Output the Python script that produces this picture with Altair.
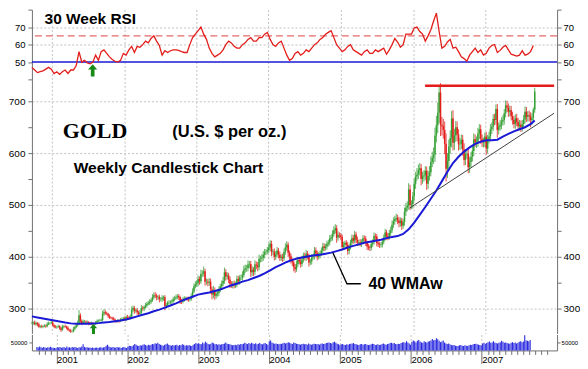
import altair as alt
import pandas as pd

# ---------------- weekly closes (Fridays) ----------------
close_2000 = [272, 273, 270, 272, 270, 265, 266, 265, 266, 267, 266, 270, 272, 272, 273]
close_2001 = [268, 265, 264, 265, 266, 262, 259, 265, 266, 265, 263, 259, 258, 256, 256, 261, 264,
              268, 272, 287, 276, 272, 275, 275, 273, 274, 271, 270, 272, 270, 270, 273, 276, 277, 277,
              278, 290, 293, 291, 290, 286, 283, 282, 281, 279, 276, 275, 277, 276, 279, 280, 281]
close_2002 = [280, 284, 283, 282, 285, 298, 301, 296, 297, 293, 290, 292, 301, 300, 303, 306, 309,
              311, 313, 316, 322, 326, 325, 322, 323, 318, 318, 321, 322, 305, 307, 312, 312, 313, 314,
              318, 320, 322, 324, 322, 315, 313, 317, 320, 320, 319, 318, 318, 324, 333, 343, 347]
close_2003 = [349, 357, 353, 367, 368, 372, 352, 352, 350, 352, 337, 327, 336, 325, 328, 330, 337,
              343, 348, 354, 370, 362, 364, 356, 348, 346, 348, 345, 347, 357, 353, 360, 360, 365, 375,
              378, 378, 385, 386, 370, 375, 371, 385, 383, 380, 396, 396, 398, 404, 409, 410, 413]
close_2004 = [418, 425, 409, 410, 400, 405, 412, 404, 398, 400, 397, 409, 418, 423, 408, 401, 393, 389,
              380, 376, 386, 394, 391, 386, 395, 402, 398, 406, 402, 389, 391, 399, 401, 412, 407,
              400, 403, 407, 412, 420, 417, 420, 425, 428, 435, 437, 444, 451, 455, 437, 442, 441, 438]
close_2005 = [419, 423, 427, 423, 411, 419, 427, 436, 431, 443, 433, 427, 428, 425, 429, 436, 435,
              427, 420, 418, 417, 425, 428, 440, 439, 426, 424, 423, 424, 429, 437, 447, 440, 438,
              446, 451, 462, 469, 473, 475, 470, 465, 470, 460, 467, 487, 495, 499, 530, 500, 502, 517]
close_2006 = [541, 555, 559, 567, 571, 550, 555, 557, 566, 541, 556, 563, 583, 591, 597, 634, 654,
              678, 717, 655, 652, 645, 618, 570, 585, 613, 629, 667, 620, 634, 650, 636, 617, 618,
              626, 607, 587, 598, 599, 573, 583, 593, 604, 627, 621, 622, 638, 646, 628, 621, 621, 632]
close_2007 = [609, 627, 632, 646, 651, 666, 664, 685, 645, 651, 655, 661, 664, 677, 692, 688, 680,
              683, 671, 664, 656, 667, 660, 652, 655, 650, 656, 665, 680, 670, 673, 671, 664, 668, 684,
              719]

# wick length above the body / below the body ($)
up_2000 = [3, 2, 4, 3, 2, 3, 2, 3, 2, 3, 2, 4, 3, 2, 3]
dn_2000 = [2, 3, 2, 3, 4, 2, 3, 2, 3, 2, 3, 2, 2, 3, 2]
up_2001 = [3, 2, 3, 2, 3, 2, 3, 4, 2, 3, 2, 3, 2, 3, 2, 4, 3, 4, 5, 10, 4, 3, 4, 3, 2, 3, 2, 3, 3, 2,
           2, 3, 3, 2, 3, 3, 6, 6, 4, 3, 2, 3, 2, 2, 3, 2, 2, 3, 2, 3, 3, 3]
dn_2001 = [2, 3, 2, 3, 2, 3, 4, 2, 3, 2, 3, 2, 3, 3, 2, 2, 3, 2, 3, 4, 5, 4, 2, 3, 2, 2, 3, 2, 2, 3,
           2, 2, 3, 2, 2, 2, 3, 4, 3, 3, 4, 3, 2, 3, 2, 3, 2, 2, 3, 2, 2, 2]
up_2002 = [4, 3, 4, 3, 4, 6, 5, 4, 3, 4, 3, 5, 6, 4, 3, 5, 4, 4, 5, 4, 6, 5, 6, 4, 3, 4, 4, 5, 3, 4,
           4, 3, 4, 3, 4, 5, 4, 5, 4, 4, 3, 4, 5, 4, 3, 3, 4, 3, 5, 6, 5, 6]
dn_2002 = [3, 4, 3, 4, 3, 4, 5, 6, 4, 5, 4, 3, 4, 4, 5, 3, 4, 3, 4, 4, 3, 4, 5, 6, 5, 6, 4, 5, 6, 8,
           5, 4, 3, 4, 4, 3, 4, 3, 4, 5, 6, 4, 3, 4, 3, 4, 5, 4, 3, 4, 3, 4]
up_2003 = [6, 7, 5, 8, 6, 9, 5, 6, 5, 7, 6, 5, 8, 5, 6, 7, 6, 5, 6, 7, 9, 6, 6, 5, 6, 5, 5, 6, 5, 7,
           6, 5, 6, 7, 8, 7, 6, 8, 6, 6, 7, 5, 8, 6, 7, 8, 6, 7, 7, 6, 5, 6]
dn_2003 = [5, 6, 7, 5, 6, 6, 8, 6, 7, 6, 8, 9, 7, 8, 6, 5, 6, 5, 6, 5, 6, 8, 6, 7, 8, 6, 7, 6, 5, 6,
           6, 7, 5, 6, 5, 6, 7, 6, 7, 9, 7, 8, 6, 7, 8, 6, 7, 6, 6, 7, 6, 5]
up_2004 = [8, 7, 6, 5, 6, 6, 7, 5, 6, 5, 6, 7, 8, 7, 5, 4, 5, 4, 5, 6, 7, 6, 5, 6, 7, 6, 6, 7, 5, 4,
           5, 6, 5, 7, 6, 5, 6, 5, 6, 7, 6, 5, 6, 5, 7, 6, 7, 8, 8, 6, 7, 5, 5]
dn_2004 = [6, 7, 8, 6, 7, 6, 5, 7, 6, 6, 7, 5, 5, 6, 8, 7, 6, 7, 8, 7, 5, 6, 6, 7, 5, 6, 5, 6, 7, 8,
           5, 6, 5, 6, 7, 7, 5, 6, 5, 5, 6, 5, 6, 5, 6, 5, 6, 5, 6, 10, 6, 5, 6]
up_2005 = [5, 6, 4, 5, 6, 5, 6, 7, 6, 7, 5, 6, 5, 6, 5, 6, 5, 5, 4, 5, 4, 5, 6, 7, 5, 5, 4, 5, 4, 5,
           6, 7, 5, 6, 6, 7, 8, 7, 6, 8, 6, 7, 6, 5, 7, 8, 9, 8, 12, 9, 7, 8]
dn_2005 = [6, 5, 6, 5, 7, 6, 5, 6, 6, 5, 7, 6, 6, 5, 6, 5, 6, 6, 7, 5, 6, 5, 6, 5, 7, 6, 5, 6, 5, 6,
           5, 6, 7, 6, 5, 6, 5, 6, 7, 6, 7, 8, 7, 8, 6, 7, 8, 7, 8, 10, 8, 9]
up_2006 = [10, 9, 12, 11, 10, 8, 9, 10, 9, 8, 10, 12, 11, 12, 14, 15, 18, 20, 13, 18, 15, 14, 16, 20,
           15, 13, 15, 14, 16, 13, 12, 11, 10, 11, 10, 9, 12, 10, 9, 11, 10, 9, 10, 11, 9, 10, 11,
           10, 9, 8, 9, 8]
dn_2006 = [9, 10, 8, 9, 10, 12, 9, 10, 9, 12, 10, 9, 8, 10, 12, 14, 13, 15, 20, 22, 18, 17, 20, 25,
           18, 15, 14, 18, 15, 14, 12, 13, 12, 11, 10, 12, 11, 10, 9, 12, 11, 10, 9, 10, 9, 11, 10,
           11, 10, 9, 10, 9]
up_2007 = [9, 8, 9, 10, 8, 9, 10, 9, 10, 8, 9, 8, 9, 8, 10, 9, 8, 9, 8, 9, 8, 8, 9, 8, 9, 8, 8, 9,
           10, 9, 8, 9, 8, 9, 4, 7]
dn_2007 = [12, 9, 8, 9, 9, 8, 10, 9, 15, 9, 8, 9, 8, 9, 8, 9, 10, 9, 8, 9, 8, 9, 8, 9, 8, 9, 8, 9,
           8, 10, 9, 10, 14, 9, 8, 6]

# weekly volume (thousands of contracts)
vol_2000 = [22, 18, 25, 20, 17, 21, 19, 16, 20, 18, 23, 19, 17, 15, 14]
vol_2001 = [20, 18, 22, 17, 19, 21, 16, 24, 18, 20, 17, 22, 19, 21, 18, 16, 20, 19, 24, 38, 22, 18,
            20, 17, 19, 16, 18, 15, 17, 19, 16, 18, 20, 17, 19, 21, 30, 35, 24, 20, 18, 22, 19, 17,
            21, 18, 20, 16, 19, 22, 18, 15]
vol_2002 = [25, 30, 28, 26, 32, 40, 35, 30, 28, 33, 30, 36, 38, 34, 30, 35, 32, 36, 40, 38, 45, 42,
            48, 40, 35, 33, 30, 36, 38, 44, 35, 32, 30, 34, 31, 33, 36, 30, 34, 32, 38, 35, 30, 33,
            31, 34, 30, 28, 35, 40, 46, 42]
vol_2003 = [45, 40, 38, 50, 44, 55, 48, 40, 38, 42, 50, 45, 38, 40, 35, 38, 36, 38, 40, 44, 50, 42,
            40, 38, 35, 33, 34, 36, 32, 38, 35, 40, 38, 42, 48, 44, 40, 46, 42, 48, 44, 40, 45, 38,
            42, 46, 40, 38, 44, 46, 40, 35]
vol_2004 = [58, 62, 50, 45, 42, 44, 40, 38, 42, 40, 45, 48, 44, 46, 52, 48, 44, 40, 50, 46, 42, 40,
            38, 36, 40, 42, 38, 40, 36, 44, 38, 36, 38, 42, 40, 38, 40, 36, 42, 44, 40, 42, 46, 48,
            50, 46, 44, 52, 55, 48, 42, 38, 34]
vol_2005 = [38, 40, 36, 34, 38, 36, 40, 42, 44, 46, 40, 38, 36, 34, 38, 40, 36, 38, 40, 36, 34, 36,
            38, 42, 40, 34, 36, 38, 34, 36, 40, 44, 38, 36, 40, 42, 46, 48, 44, 46, 40, 38, 42, 40,
            46, 50, 52, 48, 58, 50, 44, 36]
vol_2006 = [55, 62, 58, 50, 60, 66, 56, 50, 48, 58, 52, 50, 56, 58, 62, 72, 64, 66, 76, 70, 60, 52,
            56, 62, 50, 44, 40, 44, 38, 34, 32, 34, 30, 28, 28, 32, 34, 30, 28, 32, 30, 28, 32, 36,
            34, 38, 40, 42, 38, 36, 34, 32]
vol_2007 = [44, 48, 42, 46, 52, 56, 48, 50, 58, 50, 46, 44, 48, 52, 60, 54, 48, 50, 46, 44, 42, 48,
            52, 46, 50, 44, 48, 54, 58, 52, 56, 95, 62, 60, 58, 66]

# 30 week RSI, read every second week
rsi = [47, 45.5, 44, 44.5, 45, 46, 47, 46, 43.5, 44.5,
       43, 44.5, 45.5, 43.5, 45.5, 45.5, 48, 56, 50, 51,
       49.5, 49, 50, 54, 51, 56, 57, 55, 53, 51.5,
       50.5, 50, 51, 55, 54, 57, 59, 55.5, 59, 58.5,
       60, 62, 61, 63.5, 65, 62, 59.5, 54, 56.5, 55.5,
       56.5, 57, 57, 56.7, 56, 55.5, 55.5, 60, 64, 66,
       68, 70, 66, 63, 58, 55, 53, 54, 55, 57,
       60, 62, 61, 59, 58, 58, 60, 61, 63, 64,
       62, 62, 64, 64, 66, 67, 63, 60, 59, 61,
       62, 58, 54, 51, 52, 55, 56, 54, 55, 57,
       56, 58, 60, 61, 63, 64, 66, 67, 68, 64,
       60, 58, 56, 57, 59, 60, 57, 56, 55, 54,
       56, 57, 55, 55, 57, 56, 57, 58, 54.5, 57,
       60, 63.5, 61.5, 58.5, 60, 66, 66, 66, 69.5, 70,
       67.5, 66, 62, 65, 68.5, 73.5, 78, 67.5, 58, 59,
       61.5, 63, 58, 58.5, 56, 53, 52, 50.5, 54, 56,
       58, 55.5, 57, 54, 55, 58, 59.5, 60, 55.5, 56.7,
       58.5, 59.5, 57, 54.5, 54, 53.5, 54, 56.5, 54, 54.5,
       56, 59.5]

# 40 week moving average, read every fourth week (plus the last week)
ma = [285, 283, 281, 279, 277, 275, 273, 271.5, 271, 271,
      271, 271.5, 272, 273, 274, 275.5, 277, 279, 282, 285,
      288, 291, 295, 298, 302, 306, 310, 315, 319, 323,
      327, 329, 331, 334, 337, 341, 345, 348, 352, 355,
      359, 363, 368, 374, 380, 385, 390, 394, 397, 399,
      401, 403, 404, 406, 408, 411, 414, 418, 421, 424,
      427, 429, 431, 433, 436, 438, 440, 444, 453, 466,
      481, 496, 512, 528, 546, 564, 581, 593, 603, 611,
      618, 622, 625, 625, 626, 632, 637, 642, 646, 650,
      656, 663]

# annotation lines
resist_dates = ["2006-03-02", "2007-12-14"]
resist_level = 730
support_dates = ["2005-12-14", "2007-12-14"]
support_levels = [494, 677]
pointer_dates = ["2004-11-21", "2005-01-31", "2005-04-11"]
pointer_levels = [407.7, 348, 348]

# ---------------- tables ----------------
close = close_2000 + close_2001 + close_2002 + close_2003 + close_2004 + close_2005 + close_2006 + close_2007
up = up_2000 + up_2001 + up_2002 + up_2003 + up_2004 + up_2005 + up_2006 + up_2007
dn = dn_2000 + dn_2001 + dn_2002 + dn_2003 + dn_2004 + dn_2005 + dn_2006 + dn_2007
vol = vol_2000 + vol_2001 + vol_2002 + vol_2003 + vol_2004 + vol_2005 + vol_2006 + vol_2007

dates = pd.date_range("2000-09-22", periods=len(close), freq="7D")
opens = [close[0]] + close[:-1]
df = pd.DataFrame({
    "date": dates,
    "open": opens,
    "close": close,
    "high": [max(o, c) + u for o, c, u in zip(opens, close, up)],
    "low": [min(o, c) - d for o, c, d in zip(opens, close, dn)],
    "vol": vol,
    "dir": ["up" if c >= o else "down" for o, c in zip(opens, close)],
})
rsi_df = pd.DataFrame({"date": pd.date_range("2000-09-22", periods=len(rsi), freq="14D"), "rsi": rsi})
ma_idx = list(range(0, len(close), 4)) + [len(close) - 1]
ma_df = pd.DataFrame({"date": dates[ma_idx], "ma": ma})

RED = "#e21d1a"
GREEN = "#35a035"
BLUE = "#1a1ad6"
ARROW = "#178a17"
GRID = "#c2c2c2"
AXC = "#707070"
SANS = "Liberation Sans"
SERIF = "Liberation Serif"

W = 527
XS = alt.Scale(domain=[alt.DateTime(year=2000, month=9, date=22),
                       alt.DateTime(year=2007, month=12, date=29)], nice=False)
YR = alt.Scale(domain=[39, 80], nice=False, zero=False)
YP = alt.Scale(domain=[252, 738.5], nice=False, zero=False)
YV = alt.Scale(domain=[0, 100], nice=False, zero=True)

YEARS = [alt.DateTime(year=y, month=1, date=1) for y in range(2001, 2008)]
MONTHS = [alt.DateTime(year=y, month=m, date=1)
          for y in range(2000, 2008) for m in range(1, 13) if (y, m) >= (2000, 10)]

X_TOP = alt.Axis(values=YEARS, labels=False, ticks=False, domain=False, grid=True,
                 gridDash=[2, 2], gridColor=GRID, title=None)
X_BOT = alt.Axis(values=MONTHS, title=None, grid=True, gridDash=[2, 2], gridColor=GRID,
                 gridOpacity={"condition": {"test": "month(datum.value) === 0", "value": 1}, "value": 0},
                 tickSize={"condition": {"test": "month(datum.value) === 0", "value": 13}, "value": 4},
                 labelExpr="month(datum.value) === 0 ? timeFormat(datum.value, '%Y') : ''",
                 labelAlign="left", labelBaseline="top", labelPadding=-9, labelOffset=0,
                 labelFlush=False, labelOverlap=False, labelFontSize=9.5, labelColor="black",
                 domainColor=AXC, tickColor=AXC)


def left_axis(values, label_test, grid_test, size):
    return alt.Axis(orient="left", values=values, title=None,
                    labelExpr=f"({label_test}) ? datum.label : ''",
                    grid=True, gridDash=[2, 2], gridColor=GRID,
                    gridOpacity={"condition": {"test": grid_test, "value": 1}, "value": 0},
                    tickSize=4, labelPadding=3, labelFontSize=size, labelColor="black",
                    domainColor=AXC, tickColor=AXC, minExtent=23, maxExtent=23)


def right_axis(values, label_test, size):
    return alt.Axis(orient="right", values=values, title=None,
                    labelExpr=f"({label_test}) ? datum.label : ''",
                    grid=False, tickSize=4, labelPadding=2, labelFontSize=size, labelColor="black",
                    domainColor=AXC, tickColor=AXC, minExtent=22, maxExtent=22)


def one(**cols):
    return pd.DataFrame({k: [v] for k, v in cols.items()})


def text_layer(date, val, s, yscale, size, font=SANS, weight="bold"):
    d = one(date=pd.Timestamp(date), v=val, t=s)
    return alt.Chart(d).mark_text(align="left", baseline="middle", font=font, fontSize=size,
                                  fontWeight=weight, color="black").encode(
        x=alt.X("date:T", scale=XS, axis=X_TOP),
        y=alt.Y("v:Q", scale=yscale, axis=None),
        text="t:N")


ARROW_PATH = "M0,-1 L0.75,-0.15 L0.3,-0.15 L0.3,1 L-0.3,1 L-0.3,-0.15 L-0.75,-0.15 Z"


def arrow_layer(date, val, yscale, size):
    d = one(date=pd.Timestamp(date), v=val)
    return alt.Chart(d).mark_point(shape=ARROW_PATH, filled=True, color=ARROW, size=size,
                                   opacity=1).encode(
        x=alt.X("date:T", scale=XS, axis=X_TOP),
        y=alt.Y("v:Q", scale=yscale, axis=None))


# ---------------- RSI panel ----------------
rsi_vals = [40, 50, 60, 70, 80]
r65 = alt.Chart(one(v=65)).mark_rule(color="#e46a6a", strokeDash=[7, 4], strokeWidth=1.3).encode(
    y=alt.Y("v:Q", scale=YR, axis=None))
r50 = alt.Chart(one(v=50)).mark_rule(color=BLUE, strokeWidth=1.5).encode(
    y=alt.Y("v:Q", scale=YR, axis=right_axis(rsi_vals, "datum.value >= 50 && datum.value <= 70", 9.5)))
rsi_line = alt.Chart(rsi_df).mark_line(color=RED, strokeWidth=1.3).encode(
    x=alt.X("date:T", scale=XS, axis=X_TOP),
    y=alt.Y("rsi:Q", scale=YR,
            axis=left_axis(rsi_vals, "datum.value >= 50 && datum.value <= 70",
                           "datum.value === 60 || datum.value === 70", 9.5)))
rsi_panel = alt.layer(
    r65, r50, rsi_line,
    arrow_layer("2001-07-26", 45.3, YR, 150),
    text_layer("2000-11-25", 74.9, "30 Week RSI", YR, 15.5),
).resolve_axis(y="independent").properties(width=W, height=72)

# ---------------- price panel ----------------
price_vals = list(range(300, 701, 50))
wick = alt.Chart(df).mark_rule(strokeWidth=0.8).encode(
    x=alt.X("date:T", scale=XS, axis=X_TOP),
    y=alt.Y("low:Q", scale=YP,
            axis=left_axis(price_vals, "datum.value % 100 === 0", "datum.value % 100 === 0", 10)),
    y2="high:Q",
    color=alt.Color("dir:N", scale=alt.Scale(domain=["up", "down"], range=[GREEN, RED]), legend=None))
body = alt.Chart(df).mark_rule(strokeWidth=1.5).encode(
    x=alt.X("date:T", scale=XS, axis=X_TOP),
    y=alt.Y("open:Q", scale=YP, axis=None),
    y2="close:Q",
    color=alt.Color("dir:N", scale=alt.Scale(domain=["up", "down"], range=[GREEN, RED]), legend=None))
ma_line = alt.Chart(ma_df).mark_line(color=BLUE, strokeWidth=2).encode(
    x=alt.X("date:T", scale=XS, axis=X_TOP),
    y=alt.Y("ma:Q", scale=YP, axis=right_axis(price_vals, "datum.value % 100 === 0", 10)))
resist = alt.Chart(one(d1=pd.Timestamp(resist_dates[0]), d2=pd.Timestamp(resist_dates[1]), v=resist_level)
                   ).mark_rule(color=RED, strokeWidth=2.5).encode(
    x=alt.X("d1:T", scale=XS, axis=X_TOP), x2="d2:T",
    y=alt.Y("v:Q", scale=YP, axis=None))
support = alt.Chart(one(d1=pd.Timestamp(support_dates[0]), d2=pd.Timestamp(support_dates[1]),
                        v1=support_levels[0], v2=support_levels[1])
                    ).mark_rule(color="#404040", strokeWidth=1).encode(
    x=alt.X("d1:T", scale=XS, axis=X_TOP), x2="d2:T",
    y=alt.Y("v1:Q", scale=YP, axis=None), y2="v2:Q")
pointer = alt.Chart(pd.DataFrame({"date": pd.to_datetime(pointer_dates), "v": pointer_levels})
                    ).mark_line(color="black", strokeWidth=1.3).encode(
    x=alt.X("date:T", scale=XS, axis=X_TOP),
    y=alt.Y("v:Q", scale=YP, axis=None))

price_panel = alt.layer(
    wick, body, ma_line, resist, support, pointer,
    arrow_layer("2001-07-30", 260.6, YP, 100),
    text_layer("2001-02-25", 642.3, "GOLD", YP, 22, font=SERIF),
    text_layer("2002-09-01", 640.5, "(U.S. $ per oz.)", YP, 16.5),
    text_layer("2001-04-21", 571.2, "Weekly Candlestick Chart", YP, 15.6),
    text_layer("2005-05-20", 348, "40 WMAw", YP, 16),
).resolve_axis(y="independent").properties(width=W, height=253)

# ---------------- volume panel ----------------
vol_bars = alt.Chart(df).mark_bar(width=1.1, color="#2a2ae0").encode(
    x=alt.X("date:T", scale=XS, axis=X_BOT),
    y=alt.Y("vol:Q", scale=YV,
            axis=alt.Axis(orient="left", values=[50], labelExpr="format(datum.value * 1000, 'd')",
                          title=None, grid=False, tickSize=3, labelPadding=2, labelFontSize=6,
                          labelColor="black", domainColor=AXC, tickColor=AXC,
                          minExtent=23, maxExtent=23)))
vol_right = alt.Chart(one(v=0)).mark_rule(opacity=0).encode(
    y=alt.Y("v:Q", scale=YV,
            axis=alt.Axis(orient="right", values=[50], labelExpr="format(datum.value * 1000, 'd')",
                          title=None, grid=False, tickSize=3, labelPadding=1, labelFontSize=6,
                          labelColor="black", domainColor=AXC, tickColor=AXC,
                          minExtent=22, maxExtent=22)))
vol_panel = alt.layer(vol_bars, vol_right).resolve_axis(y="independent").properties(width=W, height=16)

chart = alt.vconcat(rsi_panel, price_panel, vol_panel, spacing=0).properties(
    padding=0, background="white"
).configure_view(stroke=None).configure_axis(labelFont=SANS)

chart.save("out.html", embed_options={"renderer": "svg", "actions": False})
